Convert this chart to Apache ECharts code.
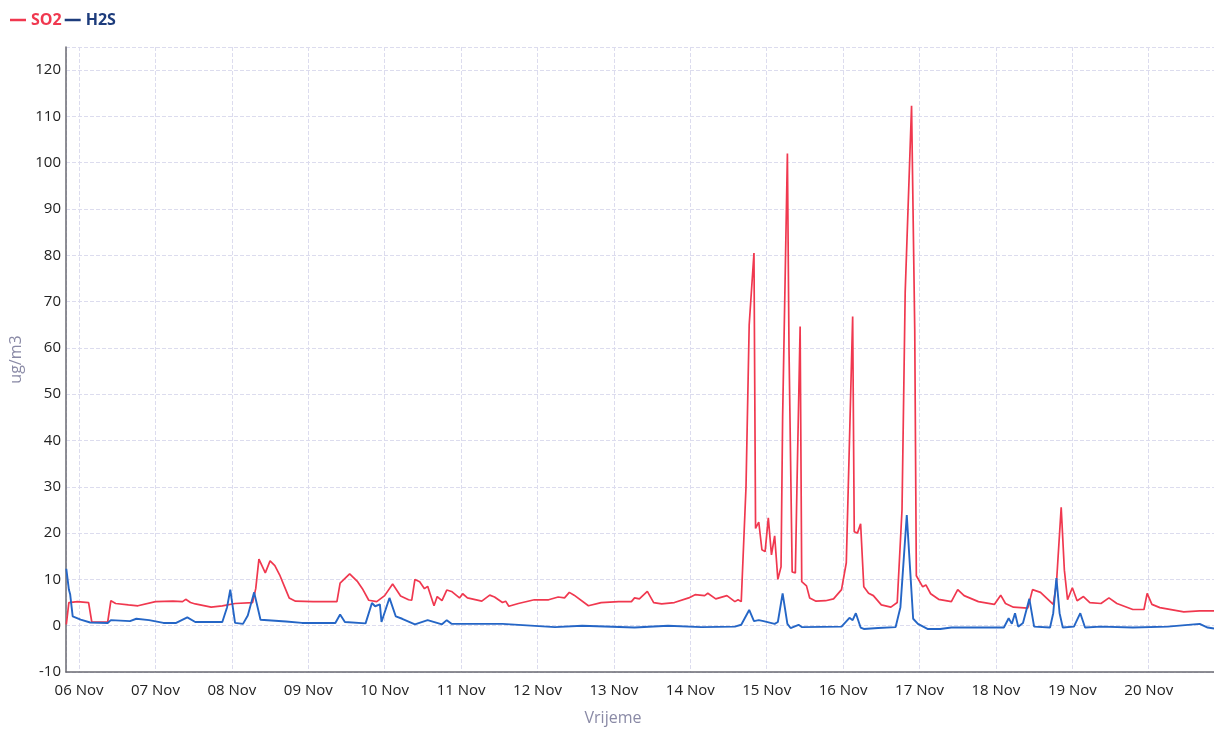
<!DOCTYPE html>
<html>
<head>
<meta charset="utf-8">
<script src="https://cdn.jsdelivr.net/npm/echarts@6/dist/echarts.min.js"></script>
<style>
html,body{margin:0;padding:0;background:#fff;}
#chart{width:1214px;height:731px;}
</style>
</head>
<body>
<div id="chart"></div>
<script>
// Hours counted from 06 Nov 00:00, paired with readings (ug/m3)
const startDay = [2023, 10, 6];
const axisStartHour = -4.1;
const axisEndHour = 356.5;
const yTicks = { min: -10, max: 125, interval: 10 };
const seriesNames = ['SO2', 'H2S'];

const so2 = [
  [-4,0.3],[-3.6,0.5],[-3.2,5.0],[-0.5,5.2],[3,5.0],[4,0.8],[9,0.8],[10,5.4],[11.5,4.8],[15.5,4.5],[18.5,4.3],
  [24,5.2],[29.5,5.3],[32.5,5.2],[33.5,5.7],[35,5.0],[36.5,4.7],[41.5,4.0],[45,4.3],[49,4.8],[54.5,5.0],
  [55.5,8],[56.5,14.4],[58.5,11.4],[60,14],[61.5,13],[63,11],[64.5,8.5],[66,6],[68,5.3],[73.5,5.2],[81,5.2],
  [82,9.2],[85,11.2],[87.5,9.5],[89,8],[91,5.5],[93.5,5.2],[96,6.5],[98.5,9],[101,6.4],[103.5,5.6],[104.5,5.5],
  [105.5,10],[107,9.5],[108.5,8],[109.5,8.5],[111.5,4.3],[112.5,6.3],[114,5.4],[115.5,7.7],[117,7.4],[119.5,6],
  [120.5,6.9],[122,6],[126.5,5.3],[129,6.6],[130.5,6.2],[133,5],[134,5.3],[135,4.2],[138,4.8],[143,5.6],
  [147.5,5.6],[150.5,6.2],[152.5,6],[154,7.2],[155.5,6.6],[160,4.3],[164,5],[169.5,5.2],[173.5,5.2],[174.5,6],
  [176,5.8],[178.5,7.4],[180.5,5],[183,4.7],[187,5],[191.5,6],[193.5,6.7],[196.5,6.5],[197.5,7],[200,5.8],
  [203.5,6.5],[206,5.2],[207,5.6],[208,5.2],[209.5,30],[210.5,65],[212,80.5],[212.5,21],[213.5,22.4],
  [214.5,16.4],[215.5,16],[216.5,23.3],[217.5,15.3],[218.5,19.4],[219.5,10],[220.5,12.7],[221,45],[222.5,102],
  [223,60],[224,11.6],[225,11.4],[225.5,30],[226.5,64.6],[227,9.5],[228.5,8.6],[229.5,6],[231.5,5.3],[234.5,5.4],
  [237,5.8],[239.5,7.8],[241,13.6],[242,40],[243,66.8],[243.5,20.3],[244.5,20],[245.5,22],[246.5,8.4],[248,7],
  [249.5,6.5],[252,4.5],[255,4],[257,5],[258.5,25],[259.5,72],[261.5,112.3],[262.5,64],[263,10.8],[265,8.4],
  [266,8.8],[267.5,6.9],[270,5.7],[274,5.2],[276,7.8],[278,6.5],[282.5,5.2],[287.5,4.6],[289.5,6.6],[291,4.8],
  [293.5,4],[298,3.8],[299.5,7.8],[302,7.2],[306,4.6],[307,9],[308.5,25.6],[309.5,12],[310.5,5.6],[312,8.2],
  [313.5,5.4],[315.5,6.3],[317.5,5],[321,4.8],[323.5,6],[326,4.8],[331,3.5],[334.5,3.5],[335.5,7],[337,4.6],
  [339.5,3.9],[347,3],[352,3.2],[356.5,3.2]
];

const h2s = [
  [-4,12.3],[-3.5,12.3],[-3.2,7.8],[-2.8,6.8],[-2,2],[0.5,1.3],[3.5,0.7],[9,0.6],[10,1.2],[16,1.0],[18,1.5],
  [22,1.2],[26.5,0.6],[30.5,0.6],[34,1.8],[36.5,0.8],[45,0.8],[46.5,4],[47.5,7.8],[49,0.6],[51.5,0.4],[53,2.2],
  [55,7.2],[57,1.3],[65,0.9],[70,0.6],[80.5,0.6],[82,2.4],[83.5,0.8],[90,0.5],[92,4.9],[93,4.2],[94.5,4.6],
  [95,0.8],[97.5,6],[99.5,2],[101.5,1.5],[105.5,0.3],[109.5,1.2],[114,0.3],[115.5,1.2],[117,0.4],[133,0.4],
  [149.5,-0.3],[158,0],[174.5,-0.4],[185,0],[195.5,-0.3],[206,-0.2],[208,0.2],[210.5,3.4],[212,1],[213.5,1.2],
  [215,1],[218.5,0.4],[219.5,0.8],[221,7],[222.5,0.4],[223.5,-0.5],[226,0.2],[227,-0.3],[239.5,-0.2],[242,1.7],
  [243,1.2],[244,2.7],[245.5,-0.4],[246.5,-0.7],[251,-0.5],[256.5,-0.3],[258,4],[260,23.9],[262,1.5],[263.5,0.4],
  [266.5,-0.7],[270.5,-0.7],[274,-0.4],[284,-0.4],[290.5,-0.4],[292,1.6],[293,0.4],[294,2.7],[295,-0.2],
  [296.5,0.6],[298.5,5.8],[300,-0.2],[305,-0.4],[306,2.7],[307,10.3],[308,2.7],[309,-0.4],[312.5,-0.2],
  [314.5,2.7],[316,-0.4],[321,-0.2],[331,-0.4],[342,-0.2],[352,0.4],[354.5,-0.4],[356.5,-0.6]
];

const base = new Date(startDay[0], startDay[1], startDay[2], 0, 0, 0).getTime();
const H = 3600 * 1000;
const toTime = arr => arr.map(p => [base + p[0] * H, p[1]]);

const chart = echarts.init(document.getElementById('chart'), null, { renderer: 'canvas' });
const FONT = '"Open Sans", "Noto Sans", sans-serif';
const gridColor = '#dcdcee';

chart.setOption({
  animation: false,
  backgroundColor: '#ffffff',
  textStyle: { fontFamily: FONT },
  legend: {
    left: 5,
    top: 7,
    icon: 'rect',
    itemWidth: 16,
    itemHeight: 2.5,
    itemGap: 3,
    textStyle: { fontSize: 16, fontWeight: 'bold', fontFamily: FONT },
    data: [
      { name: seriesNames[0], itemStyle: { color: '#f0384f' }, textStyle: { color: '#f0384f' } },
      { name: seriesNames[1], itemStyle: { color: '#1d3c7c' }, textStyle: { color: '#1d3c7c' } }
    ]
  },
  grid: { left: 63, right: 0, top: 47, bottom: 55 },
  xAxis: {
    type: 'time',
    min: base + axisStartHour * H,
    max: base + axisEndHour * H,
    minInterval: 24 * H,
    maxInterval: 24 * H,
    name: 'Vrijeme',
    nameLocation: 'middle',
    nameGap: 38,
    nameTextStyle: { color: '#8a8aa6', fontSize: 16, padding: [0, 54, 0, 0] },
    axisLine: { onZero: false, lineStyle: { color: '#6a6a72', width: 1.5 } },
    axisTick: { show: false },
    axisLabel: {
      formatter: '{dd} {MMM}',
      color: '#222',
      fontSize: 15,
      margin: 11,
      showMinLabel: false,
      showMaxLabel: false
    },
    splitLine: { show: true, lineStyle: { color: gridColor, type: 'dashed', width: 1 } }
  },
  yAxis: {
    type: 'value',
    min: yTicks.min,
    max: yTicks.max,
    interval: yTicks.interval,
    name: 'ug/m3',
    nameLocation: 'middle',
    nameGap: 42,
    nameTextStyle: { color: '#8a8aa6', fontSize: 16 },
    axisLine: { show: true, lineStyle: { color: '#6a6a72', width: 1.5 } },
    axisTick: { show: false },
    axisLabel: { color: '#222', fontSize: 15, margin: 5, showMaxLabel: false },
    splitLine: { show: true, lineStyle: { color: gridColor, type: 'dashed', width: 1 } }
  },
  series: [
    {
      name: seriesNames[0],
      type: 'line',
      data: toTime(so2),
      showSymbol: false,
      smooth: false,
      lineStyle: { color: '#f0384f', width: 1.7 },
      itemStyle: { color: '#f0384f' },
      z: 2
    },
    {
      name: seriesNames[1],
      type: 'line',
      data: toTime(h2s),
      showSymbol: false,
      smooth: false,
      lineStyle: { color: '#2566c6', width: 1.9 },
      itemStyle: { color: '#2566c6' },
      z: 3
    }
  ]
});
</script>
</body>
</html>
